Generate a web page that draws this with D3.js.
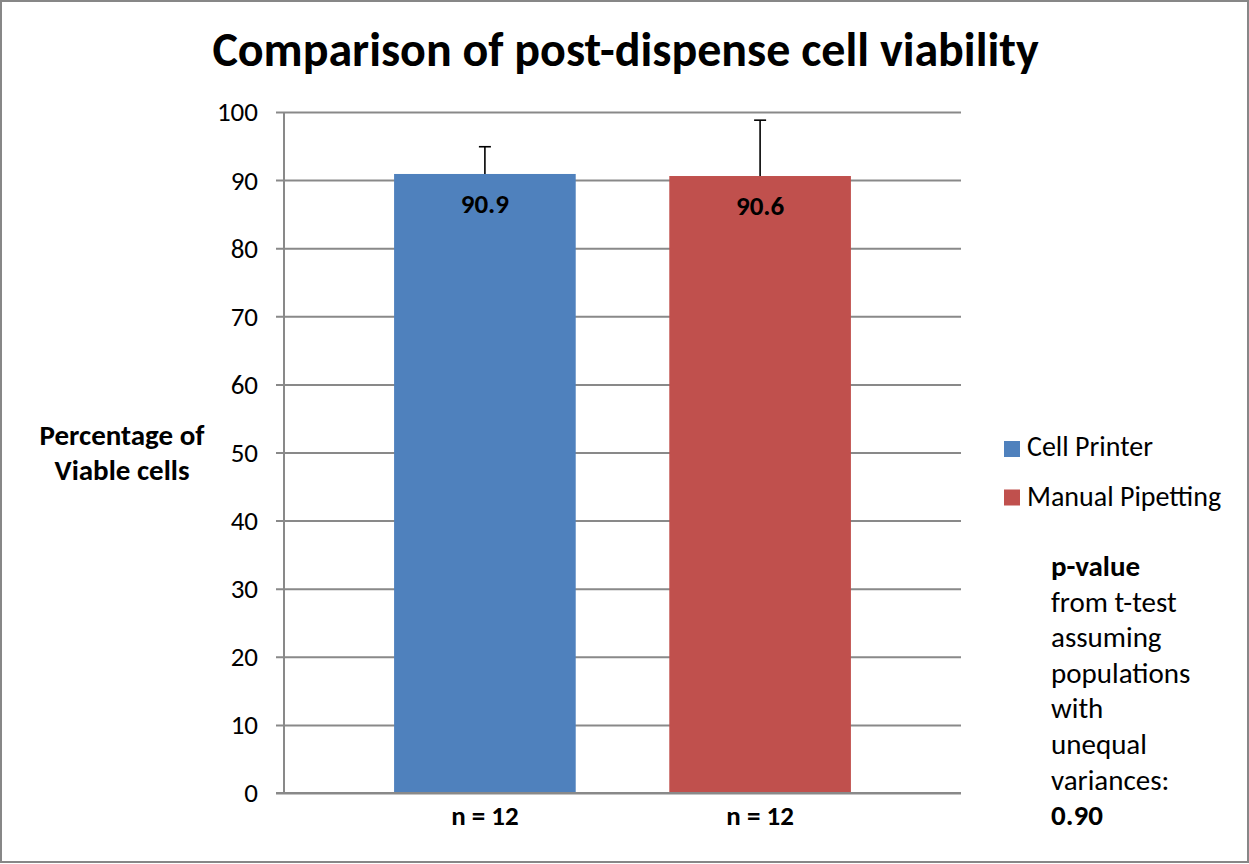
<!DOCTYPE html>
<html>
<head>
<meta charset="utf-8">
<script src="https://cdn.jsdelivr.net/npm/d3@7"></script>
<style>
  html, body { margin: 0; padding: 0; background: #fff; }
  svg { display: block; font-family: Carlito, Calibri, Lato, sans-serif; }
</style>
</head>
<body>
<svg id="chart" width="1249" height="864"></svg>
<script>
const categories = ["Cell Printer", "Manual Pipetting"];
const values = [90.9, 90.6];
const errorsPlus = [4.0, 8.2];
const sampleLabels = ["n = 12", "n = 12"];
const colors = ["#4f81bd", "#c0504d"];
const yTicks = [0, 10, 20, 30, 40, 50, 60, 70, 80, 90, 100];
const titleText = "Comparison of post-dispense cell viability";
const yTitleLines = ["Percentage of", "Viable cells"];
const noteLines = [
  {t: "p-value", bold: true},
  {t: "from t-test", bold: false},
  {t: "assuming", bold: false},
  {t: "populations", bold: false},
  {t: "with", bold: false},
  {t: "unequal", bold: false},
  {t: "variances:", bold: false},
  {t: "0.90", bold: true}
];

const svg = d3.select("#chart");
const W = 1249, H = 864;
const plot = {left: 284, right: 961, top: 112, bottom: 793};
const gridColor = "#898989";
const FF = "Carlito, Calibri, Lato, sans-serif";

svg.append("rect").attr("x", 0).attr("y", 0).attr("width", W).attr("height", H).attr("fill", "#fff");
svg.append("rect").attr("x", 1).attr("y", 1).attr("width", W - 2).attr("height", H - 3)
  .attr("fill", "none").attr("stroke", "#878787").attr("stroke-width", 2);

const y = d3.scaleLinear().domain([0, 100]).range([plot.bottom, plot.top]);
const x = d3.scaleBand().domain(categories).range([plot.left, plot.right])
  .paddingInner(0.34).paddingOuter(0.4);

// gridlines + y axis
const yAxis = d3.axisLeft(y).tickValues(yTicks).tickSize(-(plot.right - plot.left)).tickSizeOuter(0).tickPadding(26);
const gy = svg.append("g").attr("transform", `translate(${plot.left},0)`).call(yAxis);
gy.select(".domain").remove();
gy.selectAll(".tick line").attr("stroke", gridColor).attr("stroke-width", 2).attr("x1", -8);
gy.selectAll(".tick text").attr("font-size", 27).attr("fill", "#000")
  .attr("font-family", FF).attr("dy", "0.33em");

svg.append("line").attr("x1", plot.left).attr("x2", plot.left)
  .attr("y1", plot.top).attr("y2", plot.bottom).attr("stroke", gridColor).attr("stroke-width", 2);

// bars
svg.selectAll("rect.bar").data(categories).join("rect").attr("class", "bar")
  .attr("x", d => x(d)).attr("width", x.bandwidth())
  .attr("y", (d, i) => y(values[i])).attr("height", (d, i) => y(0) - y(values[i]))
  .attr("fill", (d, i) => colors[i]);

// x axis line (category axis)
const xAxis = d3.axisBottom(x).tickSize(0).tickFormat((d, i) => sampleLabels[i]).tickPadding(13);
const gx = svg.append("g").attr("transform", `translate(0,${plot.bottom})`).call(xAxis);
gx.select(".domain").attr("stroke", gridColor).attr("stroke-width", 2)
  .attr("d", `M${plot.left - 8},0H${plot.right}`);
gx.selectAll(".tick text").attr("font-size", 27).attr("font-weight", "bold").attr("fill", "#000")
  .attr("font-family", FF);

// error bars (plus only)
const eb = svg.append("g").attr("stroke", "#000").attr("stroke-width", 1.6);
categories.forEach((c, i) => {
  const cx = x(c) + x.bandwidth() / 2;
  eb.append("line").attr("x1", cx).attr("x2", cx).attr("y1", y(values[i])).attr("y2", y(values[i] + errorsPlus[i]));
  eb.append("line").attr("x1", cx - 6).attr("x2", cx + 6).attr("y1", y(values[i] + errorsPlus[i])).attr("y2", y(values[i] + errorsPlus[i]));
});

// value labels
svg.selectAll("text.val").data(categories).join("text").attr("class", "val")
  .attr("x", d => x(d) + x.bandwidth() / 2)
  .attr("y", (d, i) => y(values[i]) + 39)
  .attr("text-anchor", "middle").attr("font-size", 27).attr("font-weight", "bold")
  .text((d, i) => values[i].toFixed(1));

// title
svg.append("text").attr("x", 625.5).attr("y", 66).attr("text-anchor", "middle")
  .attr("font-size", 48).attr("font-weight", "bold").text(titleText);

// y title
svg.append("g").selectAll("text").data(yTitleLines).join("text")
  .attr("x", 122).attr("y", (d, i) => 445 + i * 35).attr("text-anchor", "middle")
  .attr("font-size", 29).attr("font-weight", "bold").text(d => d);

// legend
const lg = svg.append("g");
categories.forEach((c, i) => {
  lg.append("rect").attr("x", 1004).attr("y", 441 + i * 48.5).attr("width", 16).attr("height", 16).attr("fill", colors[i]);
  lg.append("text").attr("x", 1027).attr("y", 456 + i * 50).attr("font-size", 28).text(c);
});

// p-value note
svg.append("g").selectAll("text").data(noteLines).join("text")
  .attr("x", 1051).attr("y", (d, i) => 576 + i * 35.6)
  .attr("font-size", 29).attr("font-weight", d => d.bold ? "bold" : "normal")
  .text(d => d.t);
</script>
</body>
</html>
